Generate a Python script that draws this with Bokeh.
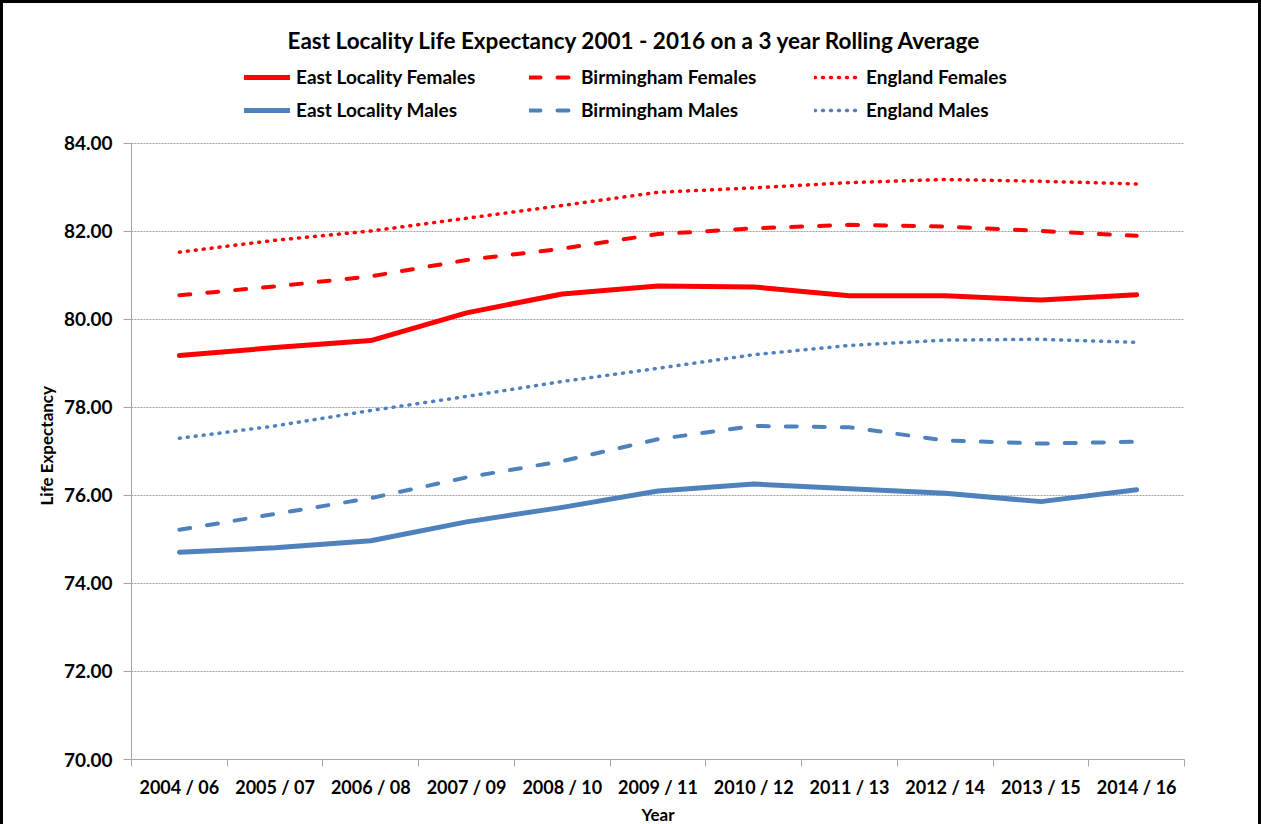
from bokeh.plotting import figure
from bokeh.models import Legend, LegendItem, FixedTicker, NumeralTickFormatter, Range1d, Title
from bokeh.embed import file_html
from bokeh.resources import INLINE

periods = ["2004 / 06", "2005 / 07", "2006 / 08", "2007 / 09", "2008 / 10", "2009 / 11",
           "2010 / 12", "2011 / 13", "2012 / 14", "2013 / 15", "2014 / 16"]
east_f = [79.18, 79.36, 79.52, 80.15, 80.58, 80.76, 80.74, 80.54, 80.54, 80.44, 80.56]
bham_f = [80.55, 80.75, 80.98, 81.35, 81.61, 81.94, 82.07, 82.15, 82.11, 82.01, 81.90]
eng_f = [81.53, 81.80, 82.01, 82.30, 82.59, 82.89, 82.99, 83.11, 83.18, 83.14, 83.08]
east_m = [74.71, 74.81, 74.97, 75.40, 75.73, 76.10, 76.26, 76.15, 76.05, 75.86, 76.13]
bham_m = [75.22, 75.58, 75.94, 76.41, 76.78, 77.28, 77.58, 77.55, 77.25, 77.18, 77.22]
eng_m = [77.30, 77.58, 77.93, 78.25, 78.59, 78.89, 79.20, 79.41, 79.53, 79.55, 79.48]
y_ticks = [70, 72, 74, 76, 78, 80, 82, 84]

FONT = "Lato"
RED = "#FF0000"
BLUE = "#4F81BD"
AXIS_GREY = "#A6A6A6"

x = list(range(len(periods)))

# frame extends above 84 so that the legend can sit inside it; axis bounded to 70-84
p = figure(width=1261, height=824, output_backend="svg", toolbar_location=None,
           x_range=Range1d(-0.5, len(periods) - 0.5), y_range=Range1d(70, 85.93),
           min_border_left=128, min_border_right=80, min_border_top=55, min_border_bottom=65,
           title="East Locality Life Expectancy 2001 - 2016 on a 3 year Rolling Average")
p.styles = {"border-left": "3px solid black", "border-right": "3px solid black",
            "border-top": "3px solid black", "box-sizing": "border-box"}
p.outline_line_color = None
p.background_fill_color = "white"
p.border_fill_color = "white"

p.title.text_font = FONT
p.title.text_font_size = "22.5px"
p.title.text_font_style = "bold"
p.title.align = "left"
p.title.offset = 156
p.title.text_color = "black"
p.title.standoff = 10

series = [
    ("East Locality Females", east_f, RED, "solid", 5),
    ("Birmingham Females", bham_f, RED, "11 17", 4),
    ("England Females", eng_f, RED, "1 7", 3.5),
    ("East Locality Males", east_m, BLUE, "solid", 5),
    ("Birmingham Males", bham_m, BLUE, "11 17", 4),
    ("England Males", eng_m, BLUE, "1 7", 3.5),
]
renderers = {}
for name, vals, col, dash, w in series:
    r = p.line(x, vals, line_color=col, line_width=w, line_dash=dash,
               line_cap="round", line_join="round")
    renderers[name] = r

order = ["East Locality Females", "Birmingham Females", "England Females",
         "East Locality Males", "Birmingham Males", "England Males"]
legend = Legend(items=[LegendItem(label=n, renderers=[renderers[n]]) for n in order],
                ncols=3, orientation="horizontal", location=(113, 638))
legend.label_text_font = FONT
legend.label_text_font_size = "19px"
legend.label_text_font_style = "bold"
legend.label_text_color = "black"
legend.glyph_width = 46
legend.glyph_height = 20
legend.label_height = 20
legend.label_width = 223
legend.label_standoff = 6
legend.spacing = 10
legend.padding = 0
legend.margin = 0
legend.border_line_color = None
legend.background_fill_alpha = 0
p.add_layout(legend, "center")

# y axis
p.yaxis.ticker = FixedTicker(ticks=y_ticks)
p.yaxis.bounds = (y_ticks[0], y_ticks[-1])
p.yaxis.formatter = NumeralTickFormatter(format="0.00")
p.yaxis.major_label_text_font = FONT
p.yaxis.major_label_text_font_size = "19px"
p.yaxis.major_label_text_font_style = "bold"
p.yaxis.major_label_text_color = "black"
p.yaxis.major_label_standoff = 11
p.yaxis.axis_line_color = AXIS_GREY
p.yaxis.major_tick_line_color = AXIS_GREY
p.yaxis.major_tick_out = 8
p.yaxis.major_tick_in = 0
p.yaxis.minor_tick_line_color = None

# y axis title, centred on the 70-84 span rather than on the whole frame
ylab = Title(text="Life Expectancy", align="left", offset=254, standoff=7,
             text_font=FONT, text_font_size="17px", text_font_style="bold",
             text_color="black")
p.add_layout(ylab, "left")

# x axis
boundaries = [i - 0.5 for i in range(len(periods) + 1)]
p.xaxis.ticker = FixedTicker(ticks=x, minor_ticks=boundaries)
p.xaxis.major_label_overrides = {i: lab for i, lab in enumerate(periods)}
p.xaxis.axis_label = "Year"
p.xaxis.axis_label_text_font = FONT
p.xaxis.axis_label_text_font_size = "17px"
p.xaxis.axis_label_text_font_style = "bold"
p.xaxis.axis_label_text_color = "black"
p.xaxis.axis_label_standoff = 3
p.xaxis.major_label_text_font = FONT
p.xaxis.major_label_text_font_size = "18px"
p.xaxis.major_label_text_font_style = "bold"
p.xaxis.major_label_text_color = "black"
p.xaxis.major_label_standoff = 9
p.xaxis.axis_line_color = AXIS_GREY
p.xaxis.major_tick_line_color = None
p.xaxis.major_tick_out = 0
p.xaxis.major_tick_in = 0
p.xaxis.minor_tick_line_color = AXIS_GREY
p.xaxis.minor_tick_out = 7
p.xaxis.minor_tick_in = 0

p.xgrid.grid_line_color = None
p.ygrid.grid_line_color = "#A0A0A0"
p.ygrid.grid_line_dash = "2 1"
p.ygrid.grid_line_width = 1

open("out.html", "w").write(file_html(p, INLINE))
